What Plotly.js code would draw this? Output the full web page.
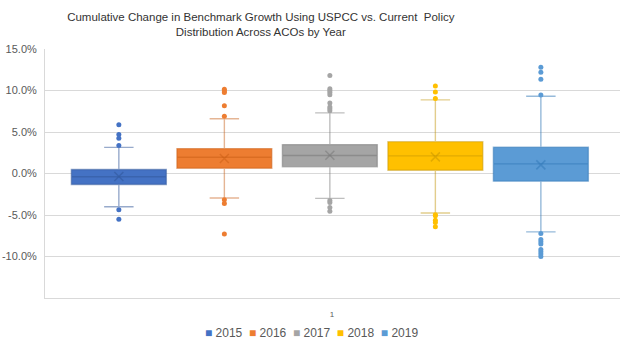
<!DOCTYPE html>
<html>
<head>
<meta charset="utf-8">
<script src="https://cdn.plot.ly/plotly-3.0.1.min.js"></script>
<style>html,body{margin:0;padding:0;background:#fff;}#chart{width:624px;height:347px;}</style>
</head>
<body>
<div id="chart"></div>
<script>
// Data (values in percent)
const years = ['2015', '2016', '2017', '2018', '2019'];
const q1 = [-1.32, 0.64, 0.80, 0.40, -0.92];
const medians = [-0.40, 1.96, 2.16, 2.12, 1.16];
const q3 = [0.48, 3.00, 3.48, 3.84, 3.16];
const lowerWhiskers = [-4.00, -2.96, -3.00, -4.76, -7.03];
const upperWhiskers = [3.15, 6.60, 7.30, 8.87, 9.30];
const means = [-0.36, 1.80, 2.20, 2.00, 1.04];
const outliers2015 = [5.88, 4.70, 4.24, 3.36, -4.36, -5.50];
const outliers2016 = [10.15, 9.95, 9.75, 8.15, 6.90, -3.16, -3.60, -7.30];
const outliers2017 = [11.80, 10.20, 10.00, 9.75, 9.50, 8.50, 8.00, 7.80, 7.55, -3.24, -3.50, -4.10, -4.55];
const outliers2018 = [10.55, 9.83, 9.03, -4.96, -5.10, -5.64, -5.90, -6.43];
const outliers2019 = [12.80, 12.20, 11.36, 9.47, -7.23, -7.95, -8.23, -8.50, -9.15, -9.43, -9.70, -10.00];
const categoryLabels = ['1'];
const yTickValues = [-10, -5, 0, 5, 10, 15];
const yTickLabels = ['-10.0%', '-5.0%', '0.0%', '5.0%', '10.0%', '15.0%'];

const outliers = [outliers2015, outliers2016, outliers2017, outliers2018, outliers2019];
const fillColors = ['#4472C4', '#ED7D31', '#A5A5A5', '#FFC000', '#5B9BD5'];
const lineColors = ['rgba(47,85,151,0.5)', 'rgba(197,90,17,0.45)', 'rgba(110,110,110,0.45)', 'rgba(191,144,0,0.45)', 'rgba(46,117,182,0.5)'];

const traces = [];
years.forEach((yr, i) => {
  const pos = i + 1;
  traces.push({
    type: 'box', name: yr, x: [pos],
    q1: [q1[i]], median: [medians[i]], q3: [q3[i]],
    lowerfence: [lowerWhiskers[i]], upperfence: [upperWhiskers[i]],
    width: 0.9, whiskerwidth: 0.31,
    fillcolor: fillColors[i], line: {color: lineColors[i], width: 1.4},
    boxpoints: false, hoverinfo: 'skip', legendgroup: yr, showlegend: false
  });
});
years.forEach((yr, i) => {
  const pos = i + 1;
  traces.push({
    type: 'scatter', mode: 'markers', name: yr + ' outliers', showlegend: false, legendgroup: yr,
    x: outliers[i].map(() => pos), y: outliers[i],
    marker: {color: fillColors[i], size: 5}, hoverinfo: 'skip'
  });
  traces.push({
    type: 'scatter', mode: 'markers', name: yr + ' mean', showlegend: false, legendgroup: yr,
    x: [pos], y: [means[i]],
    marker: {symbol: 'x-thin-open', color: lineColors[i], size: 9, line: {width: 1.5, color: lineColors[i]}}, hoverinfo: 'skip'
  });
});

// Legend drawn as real text, Excel-style: small coloured squares followed by the year
const legendText = years.map((yr, i) =>
  '<span style="color:' + fillColors[i] + '">\u25A0</span>\u00a0' + yr
).join('\u00a0\u00a0');

const layout = {
  width: 624, height: 347,
  margin: {l: 45, r: 4, t: 49, b: 49},
  paper_bgcolor: '#fff', plot_bgcolor: '#fff',
  font: {family: 'Liberation Sans, Arial, sans-serif', color: '#595959'},
  title: {
    text: 'Cumulative Change in Benchmark Growth Using USPCC vs. Current  Policy<br>Distribution Across ACOs by Year',
    font: {family: 'Liberation Sans, Arial, sans-serif', size: 11.5, color: '#333333'},
    x: 0.418, xanchor: 'center', xref: 'container', yref: 'container', y: 0.94, yanchor: 'middle'
  },
  showlegend: false,
  annotations: [{
    text: legendText, xref: 'paper', yref: 'paper', x: 0.464, y: -0.14,
    xanchor: 'center', yanchor: 'middle', showarrow: false,
    font: {size: 12, color: '#595959', family: 'Liberation Sans, Arial, sans-serif'}
  }],
  xaxis: {
    range: [0.30, 5.75], tickvals: [3.02], ticktext: categoryLabels,
    showgrid: false, zeroline: false, showline: true, linecolor: '#D9D9D9', linewidth: 1,
    ticks: '', ticklabelstandoff: 8, tickfont: {size: 8, color: '#595959'}, fixedrange: true
  },
  yaxis: {
    range: [-15, 15], tickvals: yTickValues, ticktext: yTickLabels,
    showgrid: true, gridcolor: '#D9D9D9', gridwidth: 1,
    zeroline: true, zerolinecolor: '#D9D9D9', zerolinewidth: 1,
    showline: true, linecolor: '#D9D9D9', ticks: '', ticklabelstandoff: 5,
    tickfont: {size: 11, color: '#595959'}, fixedrange: true
  }
};

Plotly.newPlot('chart', traces, layout, {displayModeBar: false, staticPlot: true});
</script>
</body>
</html>
